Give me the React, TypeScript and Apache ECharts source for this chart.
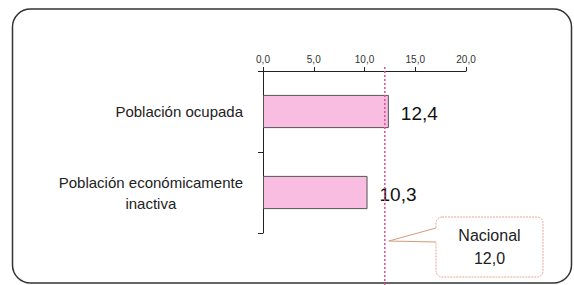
import React, { useEffect, useRef } from "react";
import * as echarts from "echarts";

const categories = ["Población ocupada", "Población económicamente\ninactiva"];
const values = [12.4, 10.3];
const nationalValue = 12.0;
const nationalLabel = ["Nacional", "12,0"];
const axisMin = 0;
const axisMax = 20;
const axisInterval = 5;

const FONT = "'Liberation Sans', Arial, sans-serif";
const fmt = (v: number) => v.toFixed(1).replace(".", ",");

export default function App() {
  const ref = useRef<HTMLDivElement>(null);
  useEffect(() => {
    if (!ref.current) return;
    const chart = echarts.init(ref.current, undefined, { renderer: "svg" });
    chart.setOption({
      animation: false,
      grid: { left: 263, right: 108, top: 71, bottom: 52 },
      xAxis: {
        type: "value",
        position: "top",
        min: axisMin,
        max: axisMax,
        interval: axisInterval,
        splitLine: { show: false },
        axisLine: { show: true, lineStyle: { color: "#222", width: 1 } },
        axisTick: { show: true, length: 4, lineStyle: { color: "#222" } },
        axisLabel: {
          formatter: (v: number) => fmt(v),
          fontSize: 10,
          color: "#333",
          fontFamily: FONT,
          margin: 7,
        },
      },
      yAxis: {
        type: "category",
        inverse: true,
        data: categories,
        axisLine: { show: true, lineStyle: { color: "#222", width: 1 } },
        axisTick: { show: true, length: 5, lineStyle: { color: "#222" } },
        axisLabel: {
          margin: 20,
          fontSize: 15,
          color: "#222",
          fontFamily: FONT,
          align: "right",
          formatter: (v: string) =>
            v
              .split("\n")
              .map((l) => `{c|${l}}`)
              .join("\n"),
          rich: {
            c: {
              align: "center",
              fontSize: 15,
              lineHeight: 21,
              color: "#222",
              fontFamily: FONT,
            },
          },
        },
      },
      series: [
        {
          type: "bar",
          data: values,
          barWidth: "41%",
          itemStyle: { color: "#f8bde0", borderColor: "#555", borderWidth: 1 },
          label: {
            show: true,
            position: "right",
            distance: 12,
            offset: [0, 2],
            formatter: (p: any) => fmt(p.value),
            fontSize: 19,
            color: "#111",
            fontFamily: FONT,
          },
        },
      ],
    });

    const lx = chart.convertToPixel({ xAxisIndex: 0 }, nationalValue) as number;
    const tip = lx + 4;
    const boxX = 436;
    const boxY = 217;
    const boxW = 107;
    const boxH = 60;
    chart.setOption({
      graphic: [
        {
          type: "rect",
          z: -10,
          silent: true,
          shape: { x: 12.5, y: 9, width: 559, height: 274, r: 18 },
          style: { fill: "none", stroke: "#333", lineWidth: 1.5 },
        },
        {
          type: "line",
          z: 10,
          silent: true,
          shape: { x1: lx, y1: 67, x2: lx, y2: 285 },
          style: { stroke: "#e0508a", lineWidth: 1.5, lineDash: [2, 2] },
        },
        {
          type: "rect",
          z: 11,
          silent: true,
          shape: { x: boxX, y: boxY, width: boxW, height: boxH, r: 6 },
          style: { fill: "#fff", stroke: "#e8a890", lineWidth: 1, lineDash: [2, 1] },
        },
        {
          type: "polygon",
          z: 12,
          silent: true,
          shape: {
            points: [
              [boxX + 1, boxY + 11],
              [tip, boxY + 24],
              [boxX + 1, boxY + 25],
            ],
          },
          style: { fill: "#fff", stroke: "none" },
        },
        {
          type: "polyline",
          z: 13,
          silent: true,
          shape: {
            points: [
              [boxX, boxY + 11],
              [tip, boxY + 24],
              [boxX, boxY + 25],
            ],
          },
          style: { fill: "none", stroke: "#d8987a", lineWidth: 1 },
        },
        {
          type: "text",
          z: 14,
          silent: true,
          style: {
            x: boxX + boxW / 2,
            y: boxY + boxH / 2,
            text: nationalLabel.join("\n"),
            align: "center",
            verticalAlign: "middle",
            fontSize: 16,
            lineHeight: 23,
            fill: "#222",
            fontFamily: FONT,
          },
        },
      ],
    });
    return () => chart.dispose();
  }, []);
  return (
    <div
      ref={ref}
      style={{ position: "fixed", left: 0, top: 0, width: 574, height: 285, background: "#fff" }}
    />
  );
}
